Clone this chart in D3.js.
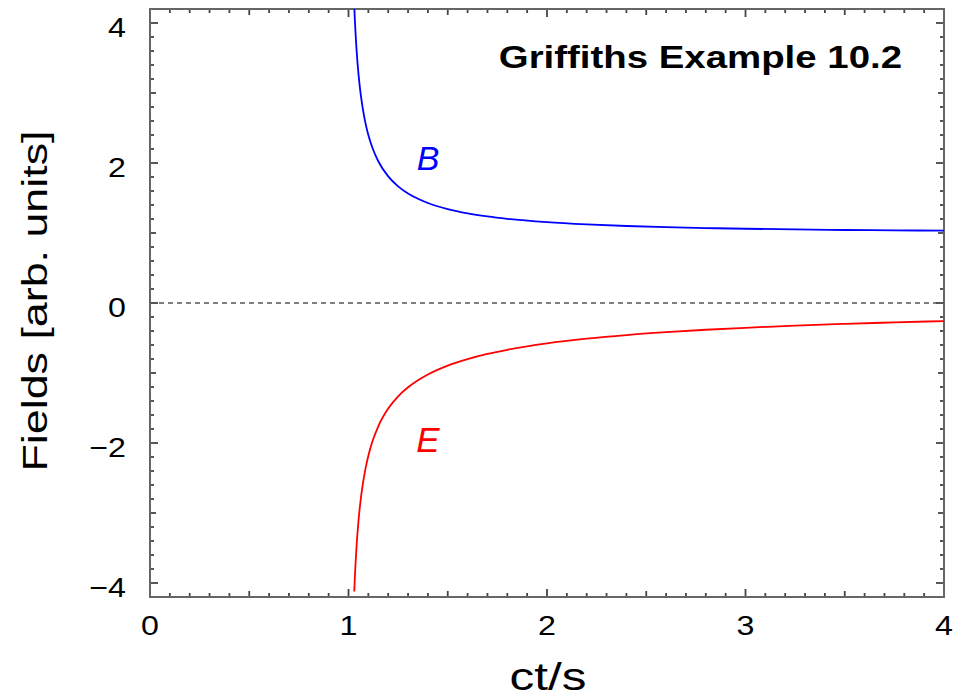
<!DOCTYPE html>
<html>
<head>
    <title>Griffiths Example 10.2</title>
    <script src="https://d3js.org/d3.v7.min.js"></script>
    <style>
        body { margin: 0; background: #fff; }
        text { font-family: "Liberation Sans", Arial, sans-serif; }
    </style>
</head>
<body>
<div id="vis"></div>
<script>
    // ct/s samples and the fields
    var ctOverS = [1.029, 1.032, 1.035, 1.04, 1.045, 1.05, 1.06, 1.07, 1.08, 1.09, 1.1, 1.12, 1.15, 1.2, 1.25, 1.3, 1.35, 1.4, 1.5, 1.6, 1.7, 1.8, 2.0, 2.2, 2.4, 2.6, 2.8, 3.0, 3.25, 3.5, 3.75, 4.0];
    var bField = [4.242, 4.047, 3.878, 3.641, 3.445, 3.280, 3.015, 2.811, 2.648, 2.513, 2.400, 2.221, 2.025, 1.809, 1.667, 1.565, 1.489, 1.429, 1.342, 1.281, 1.237, 1.203, 1.155, 1.123, 1.100, 1.083, 1.071, 1.061, 1.051, 1.043, 1.038, 1.033];
    var eField = [-4.122, -3.922, -3.747, -3.501, -3.296, -3.123, -2.844, -2.627, -2.451, -2.306, -2.182, -1.983, -1.761, -1.508, -1.333, -1.204, -1.103, -1.021, -0.894, -0.801, -0.727, -0.668, -0.577, -0.510, -0.458, -0.417, -0.382, -0.354, -0.323, -0.298, -0.277, -0.258];

    var xTicks = [0, 1, 2, 3, 4];
    var yTicks = [-4, -2, 0, 2, 4];
    var titleText = "Griffiths Example 10.2";

    var W = 962, H = 698;
    var margin = {top: 9, left: 150, bottom: 101, right: 18};
    var width = W - margin.left - margin.right;
    var height = H - margin.top - margin.bottom;

    var svg = d3.select("#vis").append("svg")
        .attr("width", W)
        .attr("height", H);

    var g = svg.append("g")
        .attr("transform", "translate(" + margin.left + "," + margin.top + ")");

    var x = d3.scaleLinear().domain([0, 4]).range([0, width]);
    var y = d3.scaleLinear().domain([-4.2, 4.2]).range([height, 0]);

    svg.append("defs").append("clipPath").attr("id", "clip")
        .append("rect").attr("width", width).attr("height", height);

    // ticks: minor, mid and major, pointing inward on all four sides
    var xMinor = d3.range(0, 41).map(function(i) { return i / 10; });
    var yMinor = d3.range(-21, 22).map(function(i) { return i / 5; });
    function xLen(v) {
        if (Math.abs(v - Math.round(v)) < 1e-6) return 8;
        if (Math.abs(v * 2 - Math.round(v * 2)) < 1e-6) return 6;
        return 4;
    }
    function yLen(v) {
        var r = Math.round(v);
        if (Math.abs(v - r) < 1e-6) return (r % 2 === 0) ? 8 : 6;
        return 4;
    }
    var tickCol = "#444";

    g.selectAll(".xtb").data(xMinor).enter().append("line")
        .attr("x1", function(d) { return x(d); }).attr("x2", function(d) { return x(d); })
        .attr("y1", height).attr("y2", function(d) { return height - xLen(d); })
        .attr("stroke", tickCol).attr("stroke-width", 1.8);
    g.selectAll(".xtt").data(xMinor).enter().append("line")
        .attr("x1", function(d) { return x(d); }).attr("x2", function(d) { return x(d); })
        .attr("y1", 0).attr("y2", function(d) { return xLen(d); })
        .attr("stroke", tickCol).attr("stroke-width", 1.8);
    g.selectAll(".ytl").data(yMinor).enter().append("line")
        .attr("y1", function(d) { return y(d); }).attr("y2", function(d) { return y(d); })
        .attr("x1", 0).attr("x2", function(d) { return yLen(d); })
        .attr("stroke", tickCol).attr("stroke-width", 1.8);
    g.selectAll(".ytr").data(yMinor).enter().append("line")
        .attr("y1", function(d) { return y(d); }).attr("y2", function(d) { return y(d); })
        .attr("x1", width).attr("x2", function(d) { return width - yLen(d); })
        .attr("stroke", tickCol).attr("stroke-width", 1.8);

    // frame
    g.append("rect")
        .attr("width", width).attr("height", height)
        .attr("fill", "none").attr("stroke", "#666").attr("stroke-width", 2);

    // text helper, glyphs in the original are drawn wide
    function label(txt, px, py, opt) {
        opt = opt || {};
        var t = svg.append("text")
            .attr("transform", "translate(" + px + "," + py + ")" + (opt.rot ? " rotate(" + opt.rot + ")" : "") + " scale(" + (opt.sx || 1) + ",1)")
            .attr("text-anchor", opt.anchor || "middle")
            .attr("font-size", opt.size || 26)
            .attr("font-weight", opt.weight || "normal")
            .attr("font-style", opt.style || "normal")
            .attr("fill", opt.fill || "#000")
            .text(txt);
        return t;
    }

    xTicks.forEach(function(v) {
        label(v, margin.left + x(v), 635, {size: 28, sx: 1.15});
    });
    yTicks.forEach(function(v) {
        label(v < 0 ? "\u2212" + Math.abs(v) : v, 126, margin.top + y(v) + 14, {size: 28, sx: 1.15, anchor: "end"});
    });

    // zero line
    g.append("line")
        .attr("x1", 0).attr("x2", width)
        .attr("y1", y(0)).attr("y2", y(0))
        .attr("stroke", "#555").attr("stroke-width", 1.6)
        .attr("stroke-dasharray", "5,4");

    var line = d3.line()
        .x(function(d) { return x(d[0]); })
        .y(function(d) { return y(d[1]); })
        .curve(d3.curveMonotoneX);

    var plot = g.append("g").attr("clip-path", "url(#clip)");
    plot.append("path")
        .datum(ctOverS.map(function(v, i) { return [v, bField[i]]; }))
        .attr("d", line).attr("fill", "none")
        .attr("stroke", "#0000ff").attr("stroke-width", 1.8);
    plot.append("path")
        .datum(ctOverS.map(function(v, i) { return [v, eField[i]]; }))
        .attr("d", line).attr("fill", "none")
        .attr("stroke", "#ff0000").attr("stroke-width", 1.8);

    label("B", 428, 170, {size: 34, style: "italic", fill: "#0000ff"});
    label("E", 428, 452, {size: 35, style: "italic", fill: "#ff0000"});

    // titles
    label(titleText, 902, 68, {size: 32, weight: "bold", anchor: "end", sx: 1.2});
    label("ct/s", 548, 690, {size: 38, sx: 1.3});
    label("Fields [arb. units]", 47, 301, {size: 35, rot: -90, sx: 1.28});
</script>
</body>
</html>
